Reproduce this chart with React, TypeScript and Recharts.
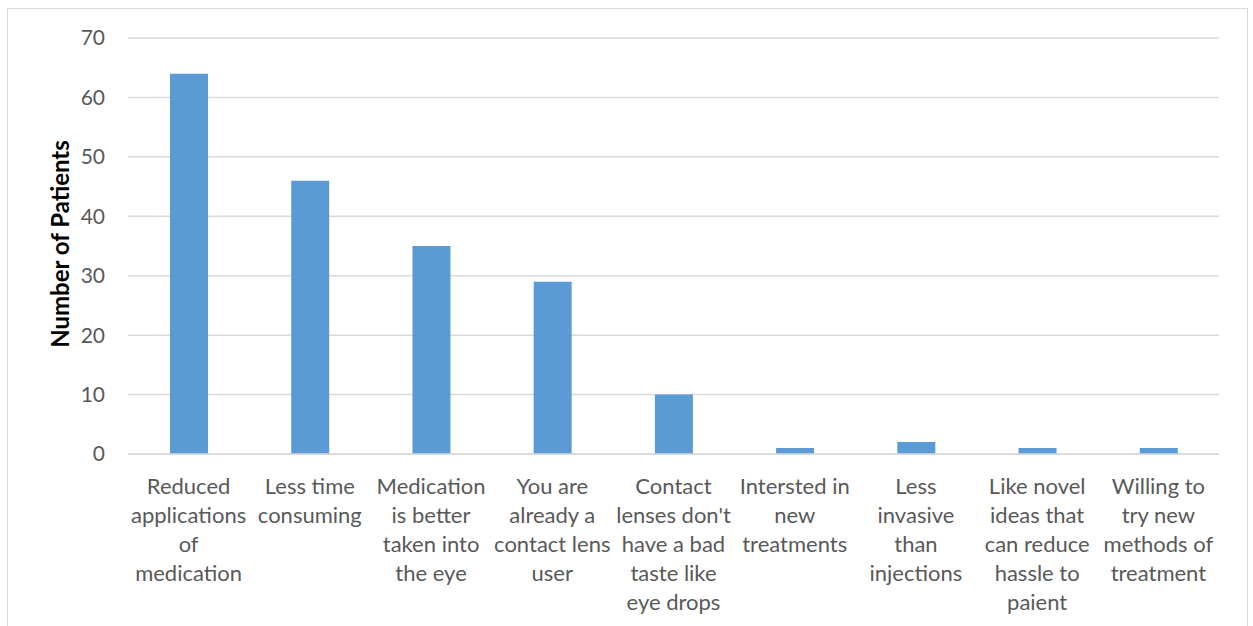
import { Bar, BarChart, CartesianGrid, XAxis, YAxis } from 'recharts';

// Reasons patients gave for preferring drug-eluting contact lenses
const reasons = [
    'Reduced\napplications\nof\nmedication',
    'Less time\nconsuming',
    'Medication\nis better\ntaken into\nthe eye',
    'You are\nalready a\ncontact lens\nuser',
    "Contact\nlenses don't\nhave a bad\ntaste like\neye drops",
    'Intersted in\nnew\ntreatments',
    'Less\ninvasive\nthan\ninjections',
    'Like novel\nideas that\ncan reduce\nhassle to\npaient',
    'Willing to\ntry new\nmethods of\ntreatment',
];
const patients = [64, 46, 35, 29, 10, 1, 2, 1, 1];
const yTicks = [0, 10, 20, 30, 40, 50, 60, 70];

const data = reasons.map((reason, i) => ({ reason, patients: patients[i] }));

const FONT = 'Lato, "Open Sans", sans-serif';
const TEXT = '#595959';
const GRID = '#d9d9d9';

function ReasonTick({ x, y, payload }: any) {
    const lines = String(payload.value).split('\n');
    return (
        <text x={x} y={y + 38} textAnchor="middle" fill={TEXT} fontSize={22} fontFamily={FONT}>
            {lines.map((line, i) => (
                <tspan key={i} x={x} dy={i === 0 ? 0 : 29}>
                    {line}
                </tspan>
            ))}
        </text>
    );
}

function AxisTitle({ viewBox }: any) {
    const cx = 59;
    const cy = viewBox.y + viewBox.height / 2 - 2;
    return (
        <text
            x={cx}
            y={cy}
            transform={`rotate(-90, ${cx}, ${cy})`}
            textAnchor="middle"
            dominantBaseline="central"
            fill="#000"
            fontWeight="bold"
            fontSize={24}
            fontFamily={FONT}
        >
            Number of Patients
        </text>
    );
}

export default function App() {
    return (
        <div style={{ position: 'absolute', left: 0, top: 0, width: 1253, height: 626, overflow: 'hidden', background: '#fff' }}>
            <div
                style={{
                    position: 'absolute',
                    left: 7,
                    top: 8,
                    width: 1239,
                    height: 640,
                    border: `1px solid ${GRID}`,
                }}
            />
            <div style={{ position: 'absolute', left: 0, top: 0 }}>
                <BarChart width={1253} height={626} data={data} margin={{ top: 38, right: 34, left: 0, bottom: 12 }}>
                    <CartesianGrid vertical={false} stroke={GRID} strokeWidth={1.5} />
                    <XAxis
                        dataKey="reason"
                        height={160}
                        interval={0}
                        tickLine={false}
                        tickSize={0}
                        axisLine={{ stroke: GRID, strokeWidth: 1.5 }}
                        tick={<ReasonTick />}
                    />
                    <YAxis
                        width={128}
                        domain={[0, 70]}
                        ticks={yTicks}
                        interval={0}
                        axisLine={false}
                        tickLine={false}
                        tickSize={0}
                        tickMargin={23}
                        tick={{ fill: TEXT, fontSize: 21, fontFamily: FONT }}
                        label={<AxisTitle />}
                    />
                    <Bar dataKey="patients" fill="#5b9bd5" barSize={38} isAnimationActive={false} />
                </BarChart>
            </div>
        </div>
    );
}
